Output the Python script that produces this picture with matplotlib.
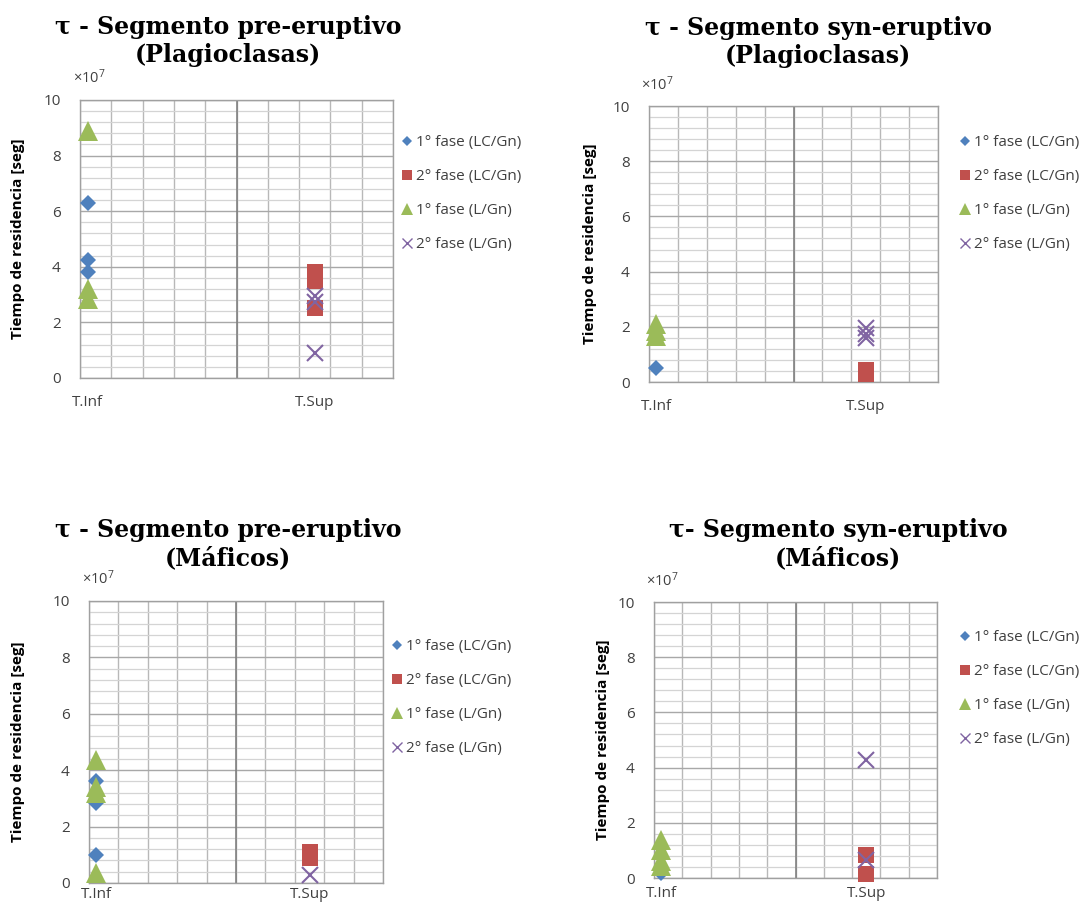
import matplotlib
matplotlib.use("Agg")
import matplotlib.pyplot as plt
from matplotlib.lines import Line2D
import numpy as np

plt.rcParams['font.family'] = ['Open Sans', 'DejaVu Sans']
plt.rcParams['mathtext.default'] = 'regular'

# Category positions on the horizontal axis (grid units 0-10)
cat_labels = ['T.Inf', 'T.Sup']
cat_pos = [0.25, 7.5]

series_names = ['1° fase (LC/Gn)', '2° fase (LC/Gn)', '1° fase (L/Gn)', '2° fase (L/Gn)']

# Residence times (x10^7 s) per series: values at T.Inf, values at T.Sup
pre_plag_f1_lc = ([6.3, 4.23, 3.83], [])
pre_plag_f2_lc = ([], [3.8, 3.5, 2.5])
pre_plag_f1_l = ([8.9, 3.2, 2.85], [])
pre_plag_f2_l = ([], [2.95, 2.75, 0.9])

syn_plag_f1_lc = ([0.5], [])
syn_plag_f2_lc = ([], [0.45, 0.3])
syn_plag_f1_l = ([2.1, 1.85, 1.65], [])
syn_plag_f2_l = ([], [1.95, 1.75, 1.6])

pre_maf_f1_lc = ([3.6, 2.83, 1.0], [])
pre_maf_f2_lc = ([], [1.1, 0.88])
pre_maf_f1_l = ([4.36, 3.4, 3.2, 0.35], [])
pre_maf_f2_l = ([], [0.3])

syn_maf_f1_lc = ([0.18], [])
syn_maf_f2_lc = ([], [0.85, 0.15])
syn_maf_f1_l = ([1.39, 1.02, 0.6, 0.42], [])
syn_maf_f2_l = ([], [4.28, 0.66])

titles = ['τ - Segmento pre-eruptivo\n(Plagioclasas)',
          'τ - Segmento syn-eruptivo\n(Plagioclasas)',
          'τ - Segmento pre-eruptivo\n(Máficos)',
          'τ- Segmento syn-eruptivo\n(Máficos)']

y_major = [0, 2, 4, 6, 8, 10]

colors = ['#4F81BD', '#C0504D', '#9BBB59', '#8064A2']
markers = ['D', 's', '^', 'x']
msizes = [8.5, 12, 14, 12]
leg_sizes = [5, 7.5, 8, 7]

W, H = 1086, 909
fig = plt.figure(figsize=(W / 100, H / 100), dpi=100)
fig.patch.set_facecolor('white')


def px_axes(left, right, top, bottom):
    return fig.add_axes([left / W, 1 - bottom / H, (right - left) / W, (bottom - top) / H])


panels = [
    dict(box=(80, 393, 100, 378), data=[pre_plag_f1_lc, pre_plag_f2_lc, pre_plag_f1_l, pre_plag_f2_l],
         title_xy=(228, 41), ylab_x=18, leg_xy=(402, 141), xpad=12),
    dict(box=(649, 938, 106, 382), data=[syn_plag_f1_lc, syn_plag_f2_lc, syn_plag_f1_l, syn_plag_f2_l],
         title_xy=(818, 42), ylab_x=590, leg_xy=(960, 141), xpad=12),
    dict(box=(89, 383, 601, 883), data=[pre_maf_f1_lc, pre_maf_f2_lc, pre_maf_f1_l, pre_maf_f2_l],
         title_xy=(228, 544), ylab_x=18, leg_xy=(392, 645), xpad=3),
    dict(box=(654, 937, 602, 878), data=[syn_maf_f1_lc, syn_maf_f2_lc, syn_maf_f1_l, syn_maf_f2_l],
         title_xy=(838, 544), ylab_x=603, leg_xy=(960, 636), xpad=6),
]

for p, title in zip(panels, titles):
    left, right, top, bottom = p['box']
    ax = px_axes(left, right, top, bottom)
    ax.set_xlim(0, 10)
    ax.set_ylim(0, 10)

    # grid
    ax.set_yticks(y_major)
    ax.set_yticks(np.arange(0, 10.01, 0.4), minor=True)
    ax.set_xticks(cat_pos)
    ax.set_xticklabels(cat_labels)
    ax.set_xticks(np.arange(0, 11, 1), minor=True)
    ax.grid(False)
    ax.grid(True, which='minor', axis='y', color='#d4d4d4', lw=0.9)
    ax.grid(True, which='major', axis='y', color='#a8a8a8', lw=1.0)
    ax.grid(True, which='minor', axis='x', color='#b8b8b8', lw=1.0)
    ax.axvline(5, color='#7a7a7a', lw=1.1, zorder=1)
    ax.set_axisbelow(True)
    ax.tick_params(which='both', length=0)
    ax.tick_params(axis='y', pad=14, labelsize=11, labelcolor='#404040')
    ax.tick_params(axis='x', pad=p['xpad'], labelsize=11, labelcolor='#404040')
    for s in ax.spines.values():
        s.set_color('#a0a0a0')
        s.set_linewidth(1.0)

    # data
    for vals, c, m, ms in zip(p['data'], colors, markers, msizes):
        xs = []
        ys = []
        for pos, v in zip(cat_pos, vals):
            xs += [pos] * len(v)
            ys += list(v)
        if m == 'x':
            ax.plot(xs, ys, linestyle='none', marker=m, color=c, markersize=ms,
                    markeredgewidth=1.5, clip_on=False, zorder=3)
        else:
            ax.plot(xs, ys, linestyle='none', marker=m, color=c, markersize=ms,
                    markeredgewidth=0, clip_on=False, zorder=3)

    # exponent label
    ax.text(0.03, 1.045, r'$\times10^7$', transform=ax.transAxes, ha='center', va='bottom',
            fontsize=10.5, color='#404040')

    # y label
    fig.text(p['ylab_x'] / W, 1 - ((top + bottom) / 2) / H, 'Tiempo de residencia [seg]',
             rotation=90, ha='center', va='center', fontsize=11, fontweight='bold', color='black')

    # title
    fig.text(p['title_xy'][0] / W, 1 - p['title_xy'][1] / H, title, ha='center', va='center',
             multialignment='center', fontsize=17, fontweight='bold',
             family=['DejaVu Serif'], linespacing=1.2)

    # legend
    handles = [Line2D([], [], linestyle='none', marker=m, color=c, markersize=s,
                      markeredgewidth=(1.0 if m == 'x' else 0))
               for m, c, s in zip(markers, colors, leg_sizes)]
    lx, ly = p['leg_xy']
    fig.legend(handles, series_names, loc='upper left',
               bbox_to_anchor=(lx / W, 1 - (ly - 6) / H), frameon=False,
               fontsize=11, handlelength=0.6, handletextpad=0.3, labelspacing=1.25,
               borderaxespad=0, borderpad=0, labelcolor='#404040')

fig.savefig('out.png', dpi=100, facecolor='white')
